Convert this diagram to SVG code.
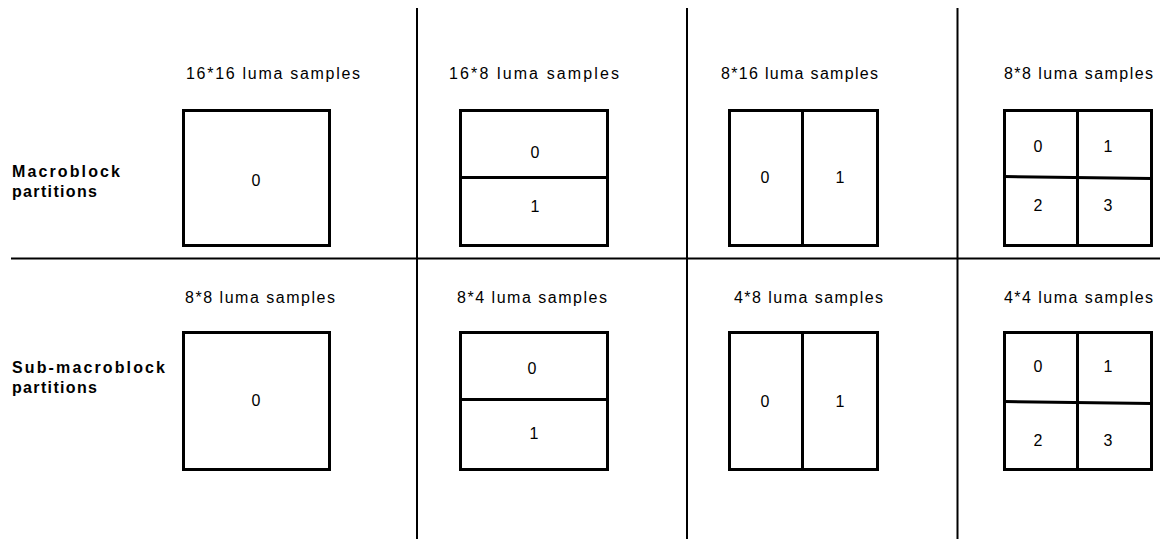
<svg xmlns="http://www.w3.org/2000/svg" width="1166" height="539" viewBox="0 0 1166 539">
<style>
.box{fill:#fff;stroke:#000;stroke-width:3}
.div{stroke:#000;stroke-width:3;fill:none}
.grid{stroke:#000;stroke-width:2;fill:none}
.lbl{font-family:"Liberation Sans",Arial,sans-serif;font-size:16px;fill:#000}
.num{font-family:"Liberation Sans",Arial,sans-serif;font-size:16px;fill:#000;text-anchor:middle}
.row{font-family:"Liberation Sans",Arial,sans-serif;font-size:16px;font-weight:bold;fill:#000}
</style>
<rect width="1166" height="539" fill="#fff"/>
<g id="grid-lines">
<line class="grid" x1="417" y1="8" x2="417" y2="539"/>
<line class="grid" x1="687" y1="8" x2="687" y2="539"/>
<line class="grid" x1="957.5" y1="8" x2="957.5" y2="539"/>
<line class="grid" x1="11" y1="258.5" x2="1160" y2="258.5"/>
</g>
<g id="row-labels">
<text class="row" x="12" y="177" textLength="108" lengthAdjust="spacing">Macroblock</text>
<text class="row" x="12" y="197" textLength="85" lengthAdjust="spacing">partitions</text>
<text class="row" x="12" y="373" textLength="153" lengthAdjust="spacing">Sub-macroblock</text>
<text class="row" x="12" y="393" textLength="85" lengthAdjust="spacing">partitions</text>
</g>
<g id="mb-16x16">
<text class="lbl" x="186" y="78.5" textLength="174" lengthAdjust="spacing">16*16 luma samples</text>
<rect class="box" x="183.5" y="110.5" width="146" height="135"/>
<text class="num" x="256" y="185.5">0</text>
</g>
<g id="mb-16x8">
<text class="lbl" x="449" y="78.5" textLength="170" lengthAdjust="spacing">16*8 luma samples</text>
<rect class="box" x="460.5" y="110.5" width="147" height="135"/>
<line class="div" x1="460.5" y1="177.5" x2="607.5" y2="177.5"/>
<text class="num" x="535" y="158">0</text>
<text class="num" x="535" y="211.5">1</text>
</g>
<g id="mb-8x16">
<text class="lbl" x="721" y="78.5" textLength="157" lengthAdjust="spacing">8*16 luma samples</text>
<rect class="box" x="729.5" y="110.5" width="148" height="135"/>
<line class="div" x1="802.5" y1="110.5" x2="802.5" y2="245.5"/>
<text class="num" x="765" y="183">0</text>
<text class="num" x="840" y="183">1</text>
</g>
<g id="mb-8x8">
<text class="lbl" x="1004" y="78.5" textLength="149" lengthAdjust="spacing">8*8 luma samples</text>
<rect class="box" x="1004.5" y="110.5" width="147" height="135"/>
<line class="div" x1="1077.5" y1="110.5" x2="1077.5" y2="245.5"/>
<line class="div" x1="1004.5" y1="176.5" x2="1151.5" y2="178.5"/>
<text class="num" x="1038" y="151.5">0</text>
<text class="num" x="1108" y="151.5">1</text>
<text class="num" x="1038" y="210.5">2</text>
<text class="num" x="1108" y="210.5">3</text>
</g>
<g id="sub-8x8">
<text class="lbl" x="185" y="302.5" textLength="150" lengthAdjust="spacing">8*8 luma samples</text>
<rect class="box" x="183.5" y="332.5" width="146" height="137"/>
<text class="num" x="256" y="405.5">0</text>
</g>
<g id="sub-8x4">
<text class="lbl" x="457" y="302.5" textLength="150" lengthAdjust="spacing">8*4 luma samples</text>
<rect class="box" x="460.5" y="332.5" width="147" height="137"/>
<line class="div" x1="460.5" y1="399.5" x2="607.5" y2="399.5"/>
<text class="num" x="532" y="373.5">0</text>
<text class="num" x="534" y="438.5">1</text>
</g>
<g id="sub-4x8">
<text class="lbl" x="734" y="302.5" textLength="149" lengthAdjust="spacing">4*8 luma samples</text>
<rect class="box" x="729.5" y="332.5" width="148" height="137"/>
<line class="div" x1="802.5" y1="332.5" x2="802.5" y2="469.5"/>
<text class="num" x="765" y="406.5">0</text>
<text class="num" x="840" y="406.5">1</text>
</g>
<g id="sub-4x4">
<text class="lbl" x="1004" y="302.5" textLength="149" lengthAdjust="spacing">4*4 luma samples</text>
<rect class="box" x="1004.5" y="332.5" width="147" height="137"/>
<line class="div" x1="1077.5" y1="332.5" x2="1077.5" y2="469.5"/>
<line class="div" x1="1004.5" y1="401.5" x2="1151.5" y2="403.5"/>
<text class="num" x="1038" y="372">0</text>
<text class="num" x="1108" y="372">1</text>
<text class="num" x="1038" y="445.5">2</text>
<text class="num" x="1108" y="445.5">3</text>
</g>
</svg>
